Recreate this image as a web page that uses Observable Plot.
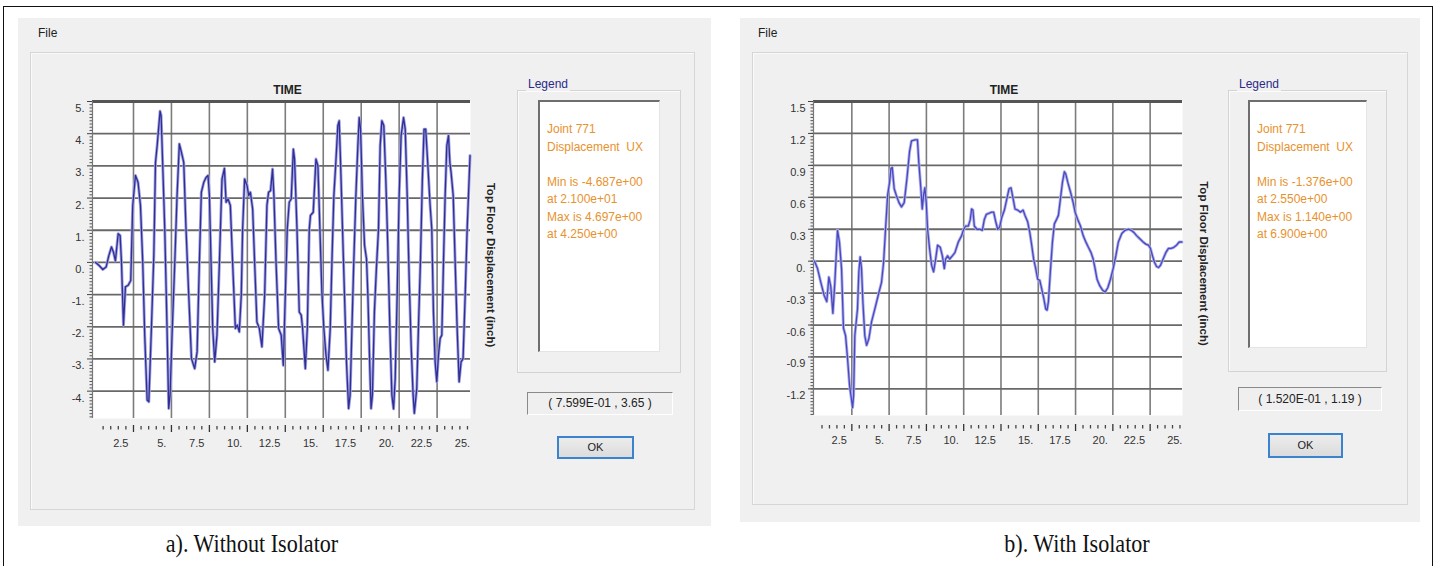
<!DOCTYPE html>
<html><head><meta charset="utf-8">
<script src="https://cdn.jsdelivr.net/npm/d3@7"></script>
<script src="https://cdn.jsdelivr.net/npm/@observablehq/plot@0.6"></script>
<style>
body{margin:0;width:1435px;height:566px;overflow:hidden;background:#fff;position:relative;font-family:"Liberation Sans",Arial,sans-serif;}
.abs{position:absolute;box-sizing:border-box;}
.win{background:#f0f0f0;}
.menu{font-size:12px;color:#222;}
.inner{border:1px solid #d6d6d6;box-shadow:inset 1px 1px 0 #fafafa;}
.group{border:1px solid #d3d3d3;box-shadow:inset 1px 1px 0 #fbfbfb;}
.gtitle{font-size:12px;color:#2a2a8a;background:#f0f0f0;padding:0 2px;line-height:14px;}
.white{background:#fff;border-top:2px solid #6e6e6e;border-left:2px solid #6e6e6e;border-right:1px solid #e4e4e4;border-bottom:1px solid #e4e4e4;}
.legtext{font-size:12px;color:#e8922e;white-space:pre;line-height:17.5px;}
.coord{border-top:1px solid #8a8a8a;border-left:1px solid #8a8a8a;border-right:1px solid #fff;border-bottom:1px solid #fff;font-size:12px;color:#222;text-align:center;background:#efefef;}
.ok{background:linear-gradient(#ececec,#dcdcdc);border:2px solid #3b83cf;font-size:11px;color:#222;text-align:center;}
.cap{font-family:"Liberation Serif","Times New Roman",serif;font-size:26px;color:#111;white-space:nowrap;transform:translateX(-50%) scaleX(0.85);transform-origin:center;}
.chart{position:absolute;}
</style></head><body>

<div class="abs" style="left:3px;top:6px;width:1430px;height:580px;border:1.5px solid #111;"></div>

<!-- panel a -->
<div class="abs win" style="left:18px;top:18px;width:693px;height:508px;"></div>
<div class="abs menu" style="left:38px;top:26px;">File</div>
<div class="abs inner" style="left:30px;top:52px;width:665px;height:458px;"></div>
<div class="abs group" style="left:517px;top:90px;width:164px;height:283px;"></div>
<div class="abs gtitle" style="left:526px;top:77px;">Legend</div>
<div class="abs white" style="left:538px;top:100px;width:122px;height:252px;"></div>
<div class="abs legtext" id="legA" style="left:547px;top:121px;"></div>
<div class="abs coord" id="coordA" style="left:527px;top:392px;width:146px;height:23px;line-height:21px;"></div>
<div class="abs ok" style="left:557px;top:436px;width:77px;height:23px;line-height:19px;">OK</div>
<div class="abs cap" style="left:252px;top:529px;">a). Without Isolator</div>

<!-- panel b -->
<div class="abs win" style="left:740px;top:18px;width:680px;height:504px;"></div>
<div class="abs menu" style="left:758px;top:26px;">File</div>
<div class="abs inner" style="left:752px;top:52px;width:656px;height:453px;"></div>
<div class="abs group" style="left:1228px;top:90px;width:159px;height:282px;"></div>
<div class="abs gtitle" style="left:1237px;top:77px;">Legend</div>
<div class="abs white" style="left:1248px;top:100px;width:119px;height:248px;"></div>
<div class="abs legtext" id="legB" style="left:1257px;top:121px;"></div>
<div class="abs coord" id="coordB" style="left:1238px;top:387px;width:144px;height:24px;line-height:22px;"></div>
<div class="abs ok" style="left:1268px;top:433px;width:75px;height:25px;line-height:21px;">OK</div>
<div class="abs cap" style="left:1077px;top:529px;">b). With Isolator</div>

<div class="chart" id="chartA" style="left:50px;top:60px;"></div>
<div class="chart" id="chartB" style="left:770px;top:60px;"></div>

<script>
// ---------- data: a) without isolator ----------
const timeA = [0,0.22,0.48,0.7,0.88,1.05,1.18,1.31,1.49,1.62,1.71,1.84,1.97,2.15,2.32,2.45,2.63,2.8,2.96,3.11,3.24,3.4,3.51,3.68,3.84,3.95,4.06,4.25,4.32,4.42,4.56,4.71,4.82,4.91,5.04,5.22,5.37,5.52,5.66,5.81,5.96,6.14,6.32,6.53,6.69,6.84,6.97,7.13,7.28,7.41,7.5,7.61,7.72,7.85,8.0,8.16,8.33,8.49,8.6,8.73,8.88,9.03,9.21,9.34,9.47,9.6,9.69,9.82,9.98,10.09,10.2,10.35,10.48,10.63,10.79,10.96,11.14,11.29,11.4,11.53,11.66,11.75,11.89,12.06,12.23,12.37,12.5,12.63,12.76,12.89,13.03,13.11,13.27,13.42,13.55,13.64,13.82,13.95,14.08,14.16,14.34,14.52,14.65,14.78,14.91,15.04,15.18,15.31,15.46,15.57,15.7,15.83,15.96,16.05,16.14,16.27,16.4,16.53,16.67,16.77,16.89,17.01,17.15,17.28,17.37,17.46,17.58,17.72,17.85,17.94,18.07,18.15,18.24,18.37,18.5,18.64,18.75,18.86,18.99,19.12,19.25,19.39,19.52,19.63,19.74,19.87,20.0,20.13,20.29,20.4,20.53,20.66,20.79,20.92,21.0,21.16,21.27,21.4,21.53,21.64,21.75,21.88,22.04,22.15,22.26,22.37,22.48,22.59,22.7,22.81,22.92,23.03,23.14,23.25,23.34,23.42,23.56,23.69,23.82,23.95,24.08,24.21,24.35,24.48,24.67];
const dispA = [0,-0.09,-0.22,-0.14,0.22,0.48,0.32,0.05,0.89,0.84,0.0,-1.95,-0.76,-0.71,-0.56,1.77,2.7,2.49,1.77,0.0,-2.26,-4.28,-4.33,-2.05,0.22,3.11,3.63,4.697,4.56,3.11,1.04,-2.05,-4.54,-4.12,-2.26,0.0,2.08,3.68,3.42,3.11,1.04,-1.02,-2.99,-3.3,-2.78,0.0,2.18,2.49,2.64,2.7,2.08,0.0,-2.05,-3.09,-2.26,0.0,2.59,2.92,1.87,1.97,1.77,0.0,-2.05,-1.95,-2.16,-1.02,1.04,2.59,2.39,2.08,2.18,1.66,0.0,-1.85,-2.05,-2.62,-1.02,1.77,2.18,2.23,2.9,2.08,0.0,-2.05,-2.26,-3.2,-1.02,1.04,1.87,1.97,3.52,3.21,1.04,-1.54,-1.64,-2.05,-3.3,-2.05,1.04,1.46,1.56,3.21,3.0,1.04,-0.92,-2.05,-2.88,-3.35,-2.05,0.0,2.08,3.11,4.25,4.4,3.11,1.04,-1.02,-3.09,-4.54,-4.12,-2.05,0.0,2.08,3.63,4.5,4.14,2.08,0.53,0.11,-1.02,-3.3,-4.54,-4.12,-1.54,-0.2,1.04,3.63,4.4,4.25,2.59,0.53,-2.05,-4.12,-4.55,-3.61,-1.02,2.08,3.94,4.5,4.14,2.08,-0.51,-2.57,-4.12,-4.687,-3.92,-2.05,0.0,2.59,4.14,4.14,3.11,1.77,1.04,-1.54,-3.09,-3.71,-2.88,-2.36,-2.26,0.0,2.08,3.63,3.94,3.11,2.8,2.08,0.0,-2.05,-3.71,-3.09,-2.99,-1.02,1.04,3.32];

// ---------- data: b) with isolator ----------
const timeB = [0,0.2,0.42,0.64,0.82,0.96,1.09,1.23,1.36,1.54,1.67,1.81,1.94,2.08,2.21,2.35,2.55,2.62,2.7,2.88,2.97,3.06,3.15,3.24,3.37,3.49,3.64,3.82,4.04,4.27,4.49,4.63,4.76,4.9,5.03,5.12,5.21,5.34,5.48,5.66,5.83,6.01,6.19,6.37,6.5,6.73,6.9,6.99,7.13,7.22,7.31,7.4,7.49,7.58,7.71,7.85,7.98,8.12,8.25,8.43,8.57,8.7,8.79,8.92,9.06,9.24,9.41,9.64,9.86,10.0,10.13,10.31,10.44,10.53,10.62,10.71,10.89,11.07,11.25,11.38,11.52,11.7,11.88,12.01,12.15,12.28,12.41,12.55,12.73,12.9,13.04,13.17,13.31,13.44,13.62,13.8,13.98,14.11,14.29,14.43,14.56,14.69,14.83,14.96,15.1,15.23,15.37,15.5,15.59,15.68,15.81,15.95,16.08,16.22,16.35,16.49,16.62,16.75,16.84,16.98,17.16,17.34,17.47,17.65,17.83,18.01,18.19,18.36,18.54,18.68,18.81,18.94,19.12,19.3,19.48,19.66,19.84,20.02,20.2,20.37,20.6,20.82,21.05,21.23,21.41,21.59,21.81,22.03,22.21,22.39,22.52,22.66,22.79,22.93,23.06,23.19,23.37,23.55,23.73,23.91,24.09,24.27,24.45,24.63];
const dispB = [0,-0.07,-0.2,-0.32,-0.38,-0.15,-0.24,-0.49,-0.2,0.29,0.18,-0.07,-0.63,-0.7,-0.91,-1.17,-1.376,-1.26,-0.7,-0.45,-0.1,0.04,-0.07,-0.38,-0.7,-0.79,-0.73,-0.57,-0.45,-0.32,-0.2,-0.01,0.3,0.62,0.74,0.87,0.88,0.68,0.62,0.55,0.51,0.55,0.77,1.03,1.13,1.14,1.14,0.93,0.68,0.49,0.62,0.69,0.55,0.3,0.12,-0.04,-0.1,0.02,0.15,0.13,0.05,-0.07,0.02,0.05,0.02,0.05,0.08,0.18,0.24,0.3,0.33,0.33,0.39,0.49,0.48,0.33,0.3,0.3,0.29,0.39,0.44,0.45,0.46,0.46,0.37,0.3,0.32,0.41,0.48,0.59,0.68,0.69,0.59,0.49,0.48,0.46,0.48,0.43,0.37,0.27,0.15,0.02,-0.07,-0.17,-0.18,-0.26,-0.35,-0.45,-0.46,-0.38,-0.1,0.18,0.35,0.39,0.43,0.59,0.74,0.84,0.82,0.74,0.65,0.55,0.46,0.39,0.33,0.24,0.18,0.13,0.08,0.02,-0.07,-0.17,-0.23,-0.27,-0.29,-0.25,-0.17,-0.07,0.05,0.18,0.26,0.29,0.3,0.29,0.27,0.24,0.21,0.18,0.16,0.15,0.12,0.05,-0.01,-0.05,-0.06,-0.04,0.02,0.08,0.12,0.12,0.13,0.15,0.18,0.18];

// ---------- axes / ticks ----------
const xMajorTicks = [2.5,5,7.5,10,12.5,15,17.5,20,22.5];
const xTickLabels = [2.5,5,7.5,10,12.5,15,17.5,20,22.5,25];
const xMinorTicks = d3.range(1,50).map(i=>i*0.5).filter(v=>v%2.5!==0);
const yLabelsA = [5,4,3,2,1,0,-1,-2,-3,-4];
const yMinorA = d3.range(-48,51).map(i=>i/10).filter(v=>!Number.isInteger(v));
const yLabelsB = [1.5,1.2,0.9,0.6,0.3,0,-0.3,-0.6,-0.9,-1.2];
const yMinorB = d3.range(-48,51).map(i=>Math.round(i*3)/100);

const xTitle = "TIME";
const yTitle = "Top Floor Displacement (inch)";
const legendA = ["Joint 771","Displacement  UX","","Min is -4.687e+00","at 2.100e+01","Max is 4.697e+00","at 4.250e+00"];
const legendB = ["Joint 771","Displacement  UX","","Min is -1.376e+00","at 2.550e+00","Max is 1.140e+00","at 6.900e+00"];
const cursorA = "( 7.599E-01 , 3.65 )";
const cursorB = "( 1.520E-01 , 1.19 )";

document.getElementById("legA").textContent = legendA.join("\n");
document.getElementById("legB").textContent = legendB.join("\n");
document.getElementById("coordA").textContent = cursorA;
document.getElementById("coordB").textContent = cursorB;

const fmt = v => Number.isInteger(v) ? `${v}.` : `${v}`;

function chart(o) {
  const data = o.time.map((t,i)=>({t, v:o.disp[i]}));
  return Plot.plot({
    width: o.width, height: o.height,
    marginLeft: o.ml, marginRight: o.mr, marginTop: o.mt, marginBottom: o.mb,
    x: {domain: o.xDomain, axis: null},
    y: {domain: o.yDomain, axis: null},
    style: {fontFamily: '"Liberation Sans", Arial, sans-serif', fontSize: "11px", background: "transparent", color: "#333", overflow: "visible"},
    marks: [
      Plot.frame({fill: "white", stroke: "none"}),
      Plot.gridX(xMajorTicks, {stroke: "#7c7c7c", strokeOpacity: 1, strokeWidth: 1.6}),
      Plot.gridY(o.yGrid, {stroke: "#686868", strokeOpacity: 1, strokeWidth: 1.8}),
      Plot.ruleY([o.yDomain[1]], {stroke: "#555", strokeWidth: 3}),
      Plot.ruleX([o.xDomain[0]], {stroke: "#777", strokeWidth: 1.2}),
      Plot.axisY(o.yMinor, {fill: "none", stroke: "#555", tickSize: 2.5, label: null}),
      Plot.axisY(o.yGrid, {fill: "none", stroke: "#444", tickSize: 5, label: null}),
      Plot.text(o.yGrid, {y: d=>d, frameAnchor: "left", dx: -8, dy: 7, textAnchor: "end", text: fmt, fill: "#333"}),
      Plot.axisX(xMinorTicks, {fill: "none", stroke: "#444", strokeWidth: 1.3, tickSize: 3.5, dy: o.tickDy, label: null}),
      Plot.axisX(xMajorTicks, {fill: "none", stroke: "#333", strokeWidth: 1.3, tickSize: 7, dy: o.tickDy - 1, label: null}),
      Plot.text(xTickLabels, {x: d=>d, frameAnchor: "bottom", dy: 28, dx: -5, textAnchor: "end", text: fmt, fill: "#333"}),
      Plot.text([xTitle], {frameAnchor: "top", dy: -16, dx: 6, fontWeight: "bold", fontSize: 12, fill: "#222"}),
      Plot.text([yTitle], {frameAnchor: "right", rotate: 90, textAnchor: "middle", dx: o.ydx, dy: 5, fontWeight: "bold", fontSize: 11.5, fill: "#222"}),
      Plot.line(data, {x: "t", y: "v", stroke: o.halo, strokeWidth: 3}),
      Plot.line(data, {x: "t", y: "v", stroke: o.color, strokeWidth: 1.3})
    ]
  });
}

document.getElementById("chartA").append(chart({
  time: timeA, disp: dispA, width: 460, height: 420, ml: 42, mr: 40, mt: 41, mb: 62,
  xDomain: [-0.2, 24.7], yDomain: [-4.85, 5], yGrid: yLabelsA, yMinor: yMinorA,
  tickDy: 8, ydx: 20, color: "#2e2e96", halo: "#a3a3e0"
}));
document.getElementById("chartB").append(chart({
  time: timeB, disp: dispB, width: 460, height: 420, ml: 43, mr: 48, mt: 41, mb: 65,
  xDomain: [-0.07, 24.67], yDomain: [-1.45, 1.5], yGrid: yLabelsB, yMinor: yMinorB.filter(v=>v>=-1.45&&v<=1.5),
  tickDy: 10, ydx: 21, color: "#4848c0", halo: "#b0b0ea"
}));
</script>
</body></html>
